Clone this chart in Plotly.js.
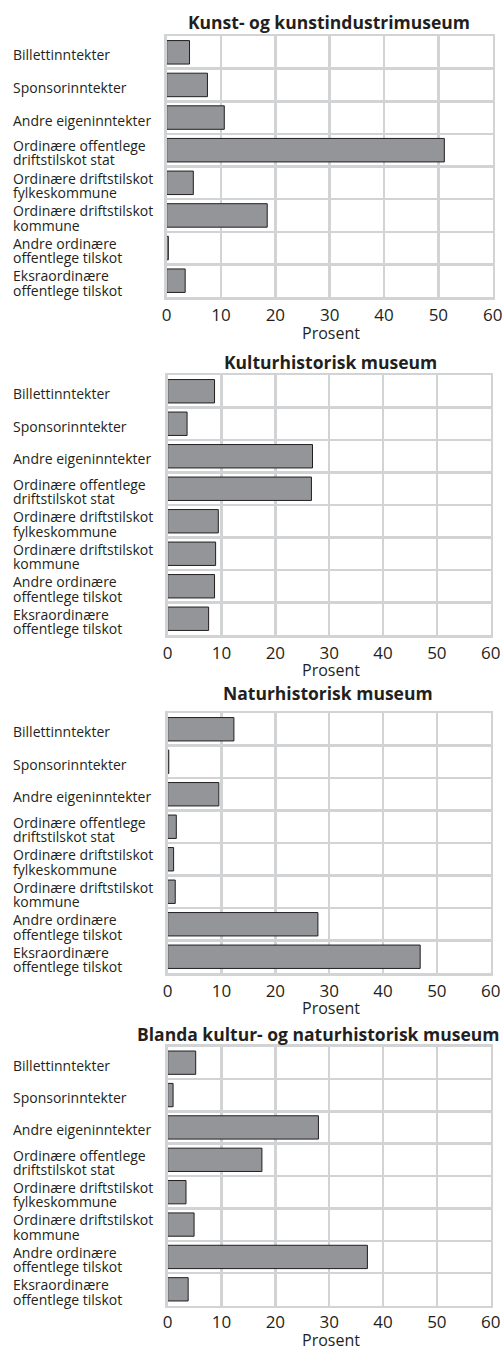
<!DOCTYPE html>
<html>
<head>
<meta charset="utf-8">
<script src="https://cdn.plot.ly/plotly-3.0.1.min.js"></script>
<style>
html,body{margin:0;padding:0;background:#fff;}
#chart{width:503px;height:1350px;}
</style>
</head>
<body>
<div id="chart"></div>
<script>
// ---- data ----
const categories = [
  "Billettinntekter",
  "Sponsorinntekter",
  "Andre eigeninntekter",
  "Ordinære offentlege<br>driftstilskot stat",
  "Ordinære driftstilskot<br>fylkeskommune",
  "Ordinære driftstilskot<br>kommune",
  "Andre ordinære<br>offentlege tilskot",
  "Eksraordinære<br>offentlege tilskot"
];
const panelTitles = [
  "Kunst- og kunstindustrimuseum",
  "Kulturhistorisk museum",
  "Naturhistorisk museum",
  "Blanda kultur- og naturhistorisk museum"
];
const kunstValues = [4.2, 7.5, 10.6, 51.1, 4.9, 18.5, 0.3, 3.4];
const kulturValues = [8.7, 3.6, 26.9, 26.7, 9.4, 8.9, 8.7, 7.6];
const naturValues = [12.3, 0.2, 9.5, 1.6, 1.1, 1.4, 27.9, 46.9];
const blandaValues = [5.2, 1.0, 28.0, 17.5, 3.4, 4.9, 37.1, 3.8];
const xTickVals = [0, 10, 20, 30, 40, 50, 60];
const xAxisTitle = "Prosent";

// ---- layout helpers ----
const W = 503, H = 1350;
const seriesList = [kunstValues, kulturValues, naturValues, blandaValues];
// plot areas in pixels: [left, right, top, bottom]
const boxes = [
  [166.7, 492.7, 36, 297],
  [167.7, 490.7, 375, 635],
  [167.7, 490.7, 713, 973],
  [167.7, 490.7, 1046.5, 1305.5]
];
const titleCenters = [329, 330, 328, 318];
const titleY = [22, 362, 693, 1034];
const axisTitleY = [333, 670, 1008, 1339.5];
const tickStandoff = [1, 1, 1, 0];

const gridColor = "#d1d3d4";
const textColor = "#231f20";
const font = "Open Sans, Noto Sans, sans-serif";

const traces = [];
const layout = {
  width: W, height: H,
  margin: {l: 0, r: 0, t: 0, b: 0},
  paper_bgcolor: "#fff",
  plot_bgcolor: "#fff",
  showlegend: false,
  font: {family: font, color: textColor},
  annotations: []
};

seriesList.forEach((vals, i) => {
  const n = i === 0 ? "" : String(i + 1);
  const xa = "x" + n, ya = "y" + n;
  const b = boxes[i];
  traces.push({
    type: "bar",
    orientation: "h",
    x: vals,
    y: categories,
    xaxis: xa, yaxis: ya,
    marker: {color: "#939598", line: {color: textColor, width: 1}},
    hoverinfo: "x+y"
  });
  layout["xaxis" + n] = {
    domain: [b[0] / W, b[1] / W],
    anchor: ya,
    range: [0, 60],
    tickvals: xTickVals,
    ticks: "",
    ticklabelstandoff: tickStandoff[i],
    showgrid: true, gridcolor: gridColor, gridwidth: 2.5,
    zeroline: false,
    showline: true, mirror: true, linecolor: gridColor, linewidth: 2.5,
    tickfont: {size: 17, color: textColor},
    fixedrange: true
  };
  layout["yaxis" + n] = {
    domain: [1 - b[3] / H, 1 - b[2] / H],
    anchor: xa,
    type: "category",
    categoryorder: "array",
    categoryarray: categories,
    autorange: "reversed",
    tickson: "boundaries",
    ticks: "",
    showticklabels: false,
    showgrid: true, gridcolor: gridColor, gridwidth: 2.5,
    zeroline: false,
    showline: true, mirror: true, linecolor: gridColor, linewidth: 2.5,
    fixedrange: true
  };
  layout.annotations.push({
    text: "<b>" + panelTitles[i] + "</b>",
    xref: "paper", yref: "paper",
    x: titleCenters[i] / W, y: 1 - titleY[i] / H,
    xanchor: "center", yanchor: "middle",
    showarrow: false,
    font: {size: 17.5, color: textColor}
  });
  // x-axis title
  layout.annotations.push({
    text: xAxisTitle,
    xref: xa + " domain", yref: "paper",
    x: 0.505, y: 1 - axisTitleY[i] / H,
    xanchor: "center", yanchor: "middle",
    borderpad: 0,
    showarrow: false,
    font: {size: 16, color: textColor}
  });
  // category labels, left aligned, tight line spacing
  const lh = 14.5;
  categories.forEach(cat => {
    const lines = cat.split("<br>");
    lines.forEach((ln, k) => {
      layout.annotations.push({
        text: ln,
        xref: "paper", yref: ya,
        x: 12 / W, y: cat,
        xanchor: "left", yanchor: "middle",
        yshift: ((lines.length - 1) / 2 - k) * lh - 2.5,
        borderpad: 0,
        showarrow: false,
        font: {size: 14, color: textColor}
      });
    });
  });
});
layout.bargap = 0.28;

Plotly.newPlot("chart", traces, layout, {staticPlot: true, displayModeBar: false});
</script>
</body>
</html>
